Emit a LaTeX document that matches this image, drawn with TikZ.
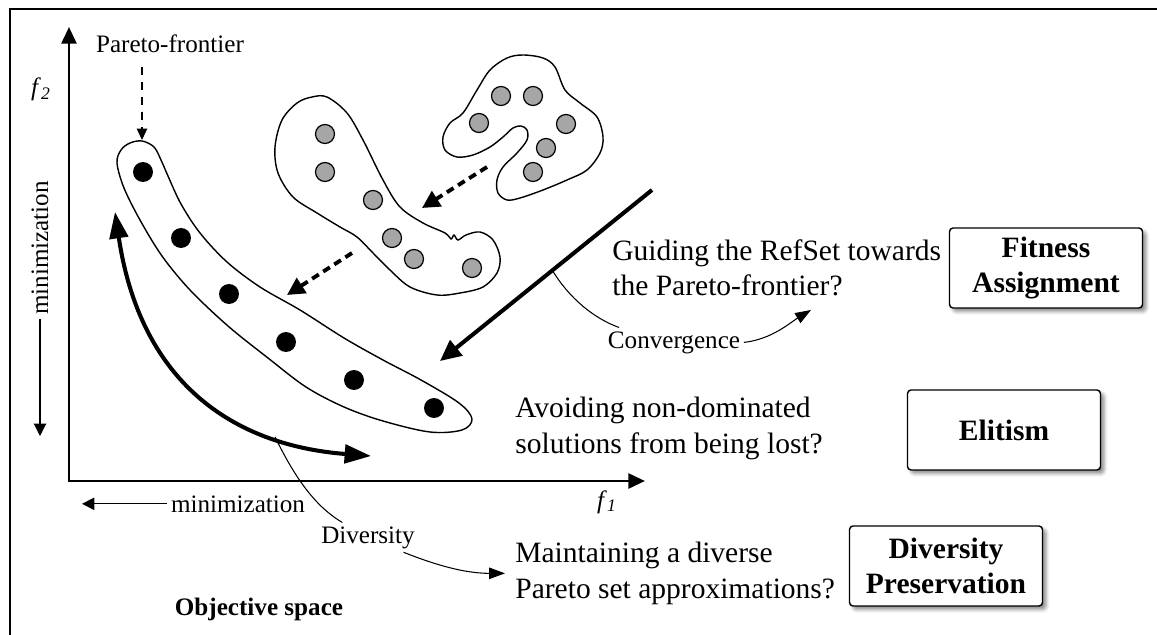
\documentclass[tikz,border=0pt]{standalone}
\usepackage{fontspec}
\setmainfont{Liberation Serif}
\usepackage{tikz}
\usetikzlibrary{shadows.blur}
\usetikzlibrary{arrows.meta, positioning, calc}

\begin{document}
\begin{tikzpicture}[
        x=0.02cm, y=-0.02cm,
        question/.style={
            anchor=base west,
            align=left,
            inner sep=0pt,
            font=\fontsize{16.8}{20}\selectfont
        },
        tag/.style={
            inner sep=2pt,
            font=\fontsize{14.3}{17}\selectfont
        },
        goal/.style={
            draw=black,
            line width=0.8pt,
            rounded corners=2pt,
            fill=white,
            minimum width=3.86cm,
            minimum height=1.6cm,
            align=center,
            font=\fontsize{16.8}{20}\selectfont\bfseries,
            blur shadow={shadow xshift=2pt, shadow yshift=-2pt, shadow blur radius=2pt, shadow opacity=45}
        },
        front_pt/.style={circle, fill=black, minimum size=0.4cm, inner sep=0pt},
        ref_pt/.style={circle, draw=black, line width=0.7pt, fill=gray!70, minimum size=0.38cm, inner sep=0pt},
        outline/.style={draw, line width=0.8pt},
        axis/.style={draw, line width=1.7pt, {Triangle[length=9.5pt, width=8.5pt]}-{Triangle[length=9.5pt, width=8.5pt]}},
        thin_arrow/.style={draw, line width=0.6pt, -{Triangle[length=7pt, width=7pt]}},
        dash_arrow/.style={draw, line width=0.6pt, dash pattern=on 4.5pt off 4pt, -{Triangle[length=6.5pt, width=6pt]}},
        move_arrow/.style={draw, line width=2.2pt, dash pattern=on 4.5pt off 3pt, -{Triangle[length=10pt, width=10pt]}},
        conv_arrow/.style={draw, line width=2.3pt, -{Triangle[length=12pt, width=11pt]}},
        spread_arrow/.style={draw, line width=2.3pt, {Triangle[length=15pt, width=10.5pt]}-{Triangle[length=15pt, width=10.5pt]}},
        leader/.style={draw, line width=0.6pt},
        leader_arrow/.style={draw, line width=0.6pt, -{Triangle[length=9pt, width=6.5pt]}}
    ]

    \useasboundingbox (0,0) rectangle (1157,635);

    % Frame
    \draw[line width=1.7pt] (10,635) -- (10,9) -- (1157,9);

    % Axes
    \coordinate (origin) at (69,481);
    \coordinate (yEnd) at (69,27);
    \coordinate (xEnd) at (645,481);
    \draw[axis] (yEnd) -- (origin) -- (xEnd);

    \node[tag, anchor=base] (f2Lbl) at (41,96) {\textit{f}\textsubscript{\textit{2}}};
    \node[tag, anchor=base] (f1Lbl) at (607,508) {\textit{f}\textsubscript{\textit{1}}};

    \node[tag, rotate=90] (minY) at (40,248) {minimization};
    \coordinate (minYTip) at (40,436);
    \draw[thin_arrow] (minY.west) -- (minYTip);

    \node[tag, anchor=base] (minX) at (238,512) {minimization};
    \coordinate (minXTip) at (82,503);
    \draw[thin_arrow] (minX.west) -- (minX.west -| minXTip);

    \node[tag, anchor=base, font=\fontsize{14.3}{17}\selectfont\bfseries] (objLbl) at (259,615) {Objective space};

    % Pareto front
    \draw[outline] plot[smooth cycle, tension=0.55] coordinates {
        (142,141) (154,147) (161,160) (168,176) (181,204) (200,233) (227,262)
        (260,287) (300,310) (344,338) (383,360) (421,380) (459,403) (472,419)
        (462,430) (430,432) (383,421) (344,407) (306,387) (268,358) (228,326)
        (190,290) (162,256) (140,220) (124,188) (117,163) (121,150) (130,143)};
    \node[front_pt] (fp1) at (143,172) {};
    \node[front_pt] (fp2) at (181,238) {};
    \node[front_pt] (fp3) at (229,294) {};
    \node[front_pt] (fp4) at (286,342) {};
    \node[front_pt] (fp5) at (354,380) {};
    \node[front_pt] (fp6) at (434,408) {};

    \node[tag, anchor=base] (paretoLbl) at (170,53) {Pareto-frontier};
    \coordinate (frontTop) at (142,140);
    \draw[dash_arrow, shorten <=0.2cm] (paretoLbl.south -| frontTop) -- (frontTop);

    % RefSet, first
    \draw[outline] plot[smooth cycle, tension=0.55] coordinates {
        (523,55) (543,58) (555,67) (565,90) (580,103) (597,117) (603,137)
        (600,153) (587,170) (567,180) (543,190) (520,198) (507,200) (498,193)
        (497,180) (503,167) (517,153) (527,140) (527,130) (521,126) (513,128)
        (503,137) (490,147) (473,155) (457,157) (445,150) (443,137) (450,123)
        (463,113) (477,90) (490,70) (507,58)};
    \node[ref_pt] (ra1) at (501,96) {};
    \node[ref_pt] (ra2) at (533,96) {};
    \node[ref_pt] (ra3) at (479,123) {};
    \node[ref_pt] (ra4) at (566,124) {};
    \node[ref_pt] (ra5) at (546,148) {};
    \node[ref_pt] (ra6) at (533,172) {};

    % RefSet, second
    \draw[outline] plot[smooth cycle, tension=0.55] coordinates {
        (327,97) (347,113) (363,140) (383,180) (400,207) (423,223) (445,233)
        (451,239) (454,235) (458,240) (466,235) (480,232) (493,240) (500,257)
        (497,273) (483,287) (460,293) (437,295) (410,287) (390,270) (373,253)
        (357,237) (340,227) (317,213) (293,197) (278,173) (275,147) (282,120)
        (297,103) (312,97)};
    \node[ref_pt] (rb1) at (325,134) {};
    \node[ref_pt] (rb2) at (325,172) {};
    \node[ref_pt] (rb3) at (373,200) {};
    \node[ref_pt] (rb4) at (392,238) {};
    \node[ref_pt] (rb5) at (414,259) {};
    \node[ref_pt] (rb6) at (472,268) {};

    \coordinate (moveA1) at (487,167);
    \coordinate (moveA2) at (422,208);
    \draw[move_arrow] (moveA1) -- (moveA2);
    \coordinate (moveB1) at (352,253);
    \coordinate (moveB2) at (287,295);
    \draw[move_arrow] (moveB1) -- (moveB2);

    % Convergence
    \coordinate (convStart) at (652,190);
    \coordinate (convEnd) at (440,361);
    \draw[conv_arrow] (convStart) -- (convEnd);
    \coordinate (convFoot) at ($(convStart)!0.47!(convEnd)$);

    \node[tag, anchor=base] (convLbl) at (674,348) {Convergence};
    \draw[leader] (convFoot) .. controls +(17,28) and +(-25,-9) .. ([xshift=0.3cm]convLbl.north west);
    \coordinate (convTip) at (811,310);
    \draw[leader_arrow] (convLbl.east) .. controls +(28,-3) and +(-20,12) .. (convTip);

    % Diversity
    \coordinate (spreadTop) at (115,212);
    \coordinate (spreadEnd) at (371,456);
    \draw[spread_arrow] (spreadTop) .. controls (140,380) and (230,445) .. coordinate[pos=0.75] (divFoot) (spreadEnd);

    \node[tag, anchor=base] (divLbl) at (368,543) {Diversity};
    \draw[leader] (divFoot) .. controls +(18,37) and +(-29,-17) .. ([xshift=0.5cm]divLbl.north west);

    % Questions (base = last line)
    \node[question] (guideQ) at (612,296) {Guiding the RefSet towards\\the Pareto-frontier?};
    \node[question] (eliteQ) at (515,453) {Avoiding non-dominated\\solutions from being lost?};
    \node[question] (diverseQ) at (515,598) {Maintaining a diverse\\Pareto set approximations?};

    \draw[leader_arrow] ([xshift=-0.3cm]divLbl.south east) .. controls +(40,16) and +(-35,0) .. ([xshift=-0.2cm]diverseQ.west);

    % Components
    \node[goal] (fitBox) at (1046,268) {Fitness\\Assignment};
    \node[goal] (eliteBox) at (1004,430) {Elitism};
    \node[goal] (divBox) at (946,566) {Diversity\\Preservation};

\end{tikzpicture}
\end{document}
